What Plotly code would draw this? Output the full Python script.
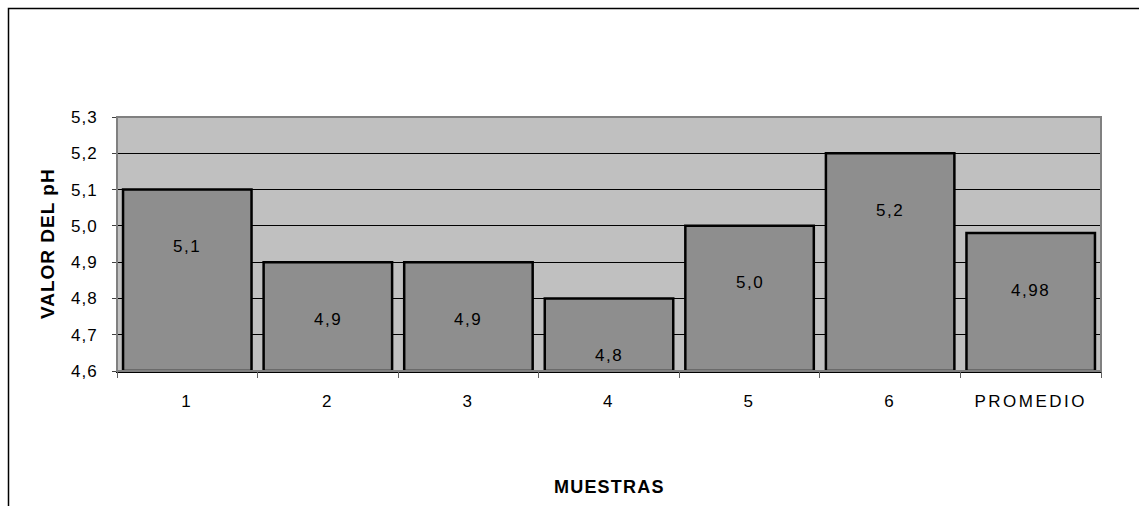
import plotly.graph_objects as go

# pH readings per sample plus their average
categories = ["1", "2", "3", "4", "5", "6", "PROMEDIO"]
ph_values = [5.1, 4.9, 4.9, 4.8, 5.0, 5.2, 4.98]
label_decimals = [1, 1, 1, 1, 1, 1, 2]

y_min, y_max, y_step = 4.6, 5.3, 0.1

W, H = 1139, 506
L, R, T, B = 117, 38, 117, 135
PW, PH = W - L - R, H - T - B

FONT = "Liberation Sans, Arial, sans-serif"


def spaced(txt, px=2.0):
    return f'<span style="letter-spacing:{px}px">{txt}</span>'


labels = [f"{v:.{d}f}".replace(".", ",") for v, d in zip(ph_values, label_decimals)]
positions = list(range(len(categories)))

fig = go.Figure()
fig.add_trace(go.Bar(
    x=positions,
    y=[v - y_min for v in ph_values],
    base=y_min,
    marker=dict(color="#8e8e8e", line=dict(color="#000000", width=2.5)),
    hoverinfo="skip",
))

# value labels inside each bar, a fixed distance below its top
for pos, v, txt in zip(positions, ph_values, labels):
    fig.add_annotation(
        x=pos, y=v, xref="x", yref="y", text=spaced(txt, 1.5), showarrow=False,
        yshift=-57, yanchor="middle",
        font=dict(family=FONT, size=17, color="#000000"),
    )

# axis titles
fig.add_annotation(
    x=0.5, y=0, xref="paper", yref="paper", text=spaced("<b>MUESTRAS</b>", 1.2),
    showarrow=False, yshift=-116, yanchor="middle",
    font=dict(family=FONT, size=18, color="#000000"),
)
fig.add_annotation(
    x=0, y=0.5, xref="paper", yref="paper", text=spaced("<b>VALOR DEL pH</b>", 1.0),
    showarrow=False, xshift=-70, xanchor="center", yanchor="middle",
    textangle=-90, font=dict(family=FONT, size=19, color="#000000"),
)

# grey frame round the plot area
fig.add_shape(type="rect", xref="paper", yref="paper", x0=0, y0=0, x1=1, y1=1,
              line=dict(color="#808080", width=2), layer="above")
# outer chart frame (runs past the right and bottom edges)
fig.add_shape(type="rect", xref="paper", yref="paper",
              x0=(8.5 - L) / PW, y0=(T + PH - (H + 20)) / PH,
              x1=(W + 20 - L) / PW, y1=(T + PH - 8.5) / PH,
              line=dict(color="#000000", width=1.5), layer="above")

fig.update_layout(
    width=W, height=H,
    margin=dict(l=L, r=R, t=T, b=B, autoexpand=False),
    paper_bgcolor="#ffffff",
    plot_bgcolor="#c0c0c0",
    bargap=0.086,
    showlegend=False,
    separators=", ",
    font=dict(family=FONT, size=17, color="#000000"),
    xaxis=dict(
        range=[-0.5, len(categories) - 0.5],
        tickmode="array",
        tickvals=positions,
        ticktext=[spaced(c, 2.5) for c in categories],
        ticks="",
        showline=True, linecolor="#000000", linewidth=2,
        showgrid=False, zeroline=False,
        ticklabelstandoff=14,
        tickfont=dict(family=FONT, size=17),
        fixedrange=True,
    ),
    # second x axis only carries the boundary tick marks between bars
    xaxis2=dict(
        overlaying="x", anchor="y", side="bottom",
        range=[-0.5, len(categories) - 0.5],
        tickmode="array",
        tickvals=[p - 0.5 for p in positions] + [len(categories) - 0.5],
        ticktext=[""] * (len(categories) + 1),
        ticks="outside", ticklen=6, tickcolor="#606060", tickwidth=1,
        showline=False, showgrid=False, zeroline=False,
        fixedrange=True,
    ),
    yaxis=dict(
        range=[y_min, y_max],
        tickmode="array",
        tickvals=[round(y_min + i * y_step, 1) for i in range(8)],
        ticktext=[spaced(f"{y_min + i * y_step:.1f}".replace(".", ","), 1.0) for i in range(8)],
        ticks="outside", ticklen=4, tickcolor="#404040",
        showline=True, linecolor="#303030", linewidth=1,
        showgrid=True, gridcolor="#000000", gridwidth=1,
        zeroline=False,
        ticklabelstandoff=11,
        tickfont=dict(family=FONT, size=17),
        fixedrange=True,
    ),
)

# an invisible trace so the boundary-tick axis is drawn
fig.add_trace(go.Scatter(x=[0], y=[y_min], xaxis="x2", mode="markers",
                         marker=dict(opacity=0), hoverinfo="skip"))

fig.write_html("out.html")
